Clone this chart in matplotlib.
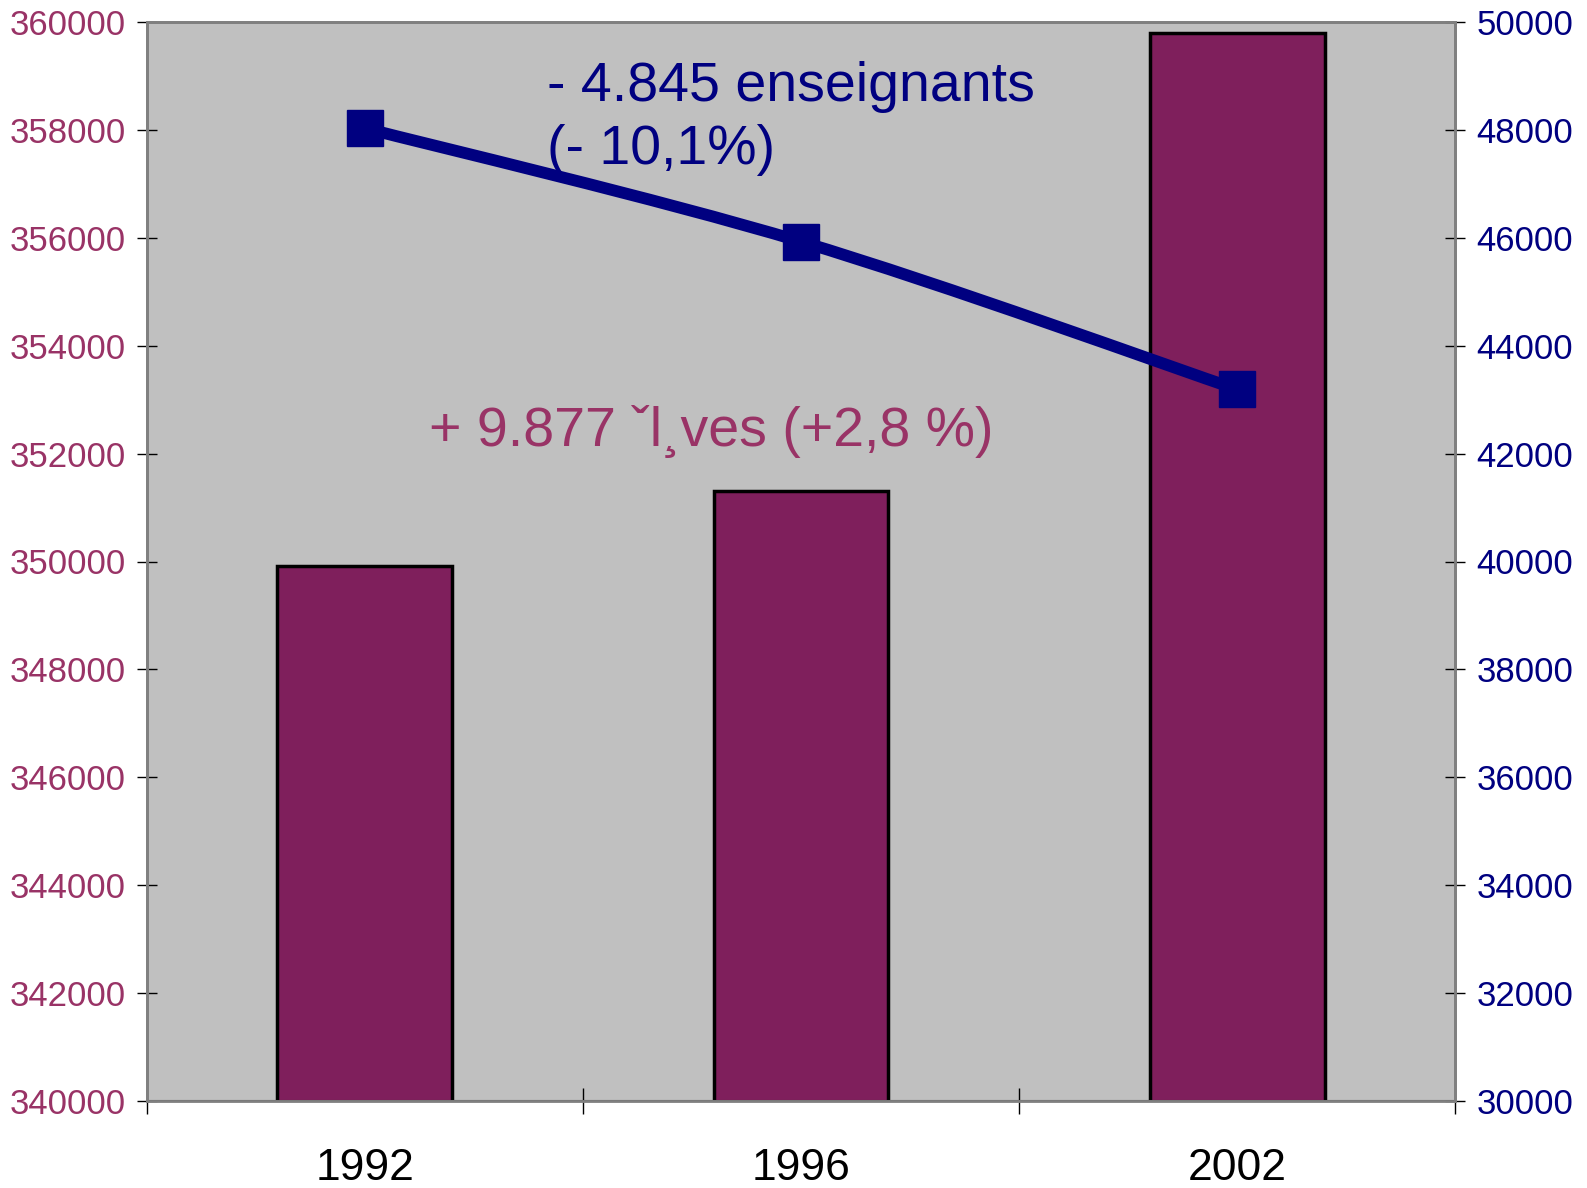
import numpy as np
import matplotlib
matplotlib.use('Agg')
import matplotlib.pyplot as plt
from matplotlib.path import Path
from matplotlib.patches import PathPatch

plt.rcParams['font.family'] = ['Liberation Sans', 'DejaVu Sans']

# Data
years = ['1992', '1996', '2002']
eleves = [349925, 351300, 359800]        # bars, left axis
enseignants = [48034, 45930, 43189]      # line, right axis

barColor = '#7f1f5c'
lineColor = '#000080'
leftColor = '#993366'

fig = plt.figure(figsize=(15.87, 11.88), dpi=100)
ax1 = fig.add_axes([146.5/1587, 1-1101/1188, (1455.5-146.5)/1587, (1101-22)/1188])
ax1.set_facecolor('#c0c0c0')

x = np.arange(len(years))
ax1.bar(x, eleves, width=0.4, color=barColor, edgecolor='black', linewidth=2.5, zorder=2)
ax1.set_xlim(-0.5, 2.5)
ax1.set_ylim(340000, 360000)
ax1.set_yticks(np.arange(340000, 360001, 2000))
ax1.tick_params(axis='y', direction='inout', length=14, width=1, colors='black',
                labelcolor=leftColor, labelsize=25, pad=8)
ax1.set_xticks(x)
ax1.set_xticklabels(years)
ax1.tick_params(axis='x', which='major', length=0, labelsize=32, pad=34)
ax1.set_xticks([-0.5, 0.5, 1.5, 2.5], minor=True)
ax1.tick_params(axis='x', which='minor', direction='inout', length=19, width=1)

ax2 = ax1.twinx()
# smoothed line (Excel style), control points from the data
pts = np.column_stack([x, enseignants]).astype(float)
ext = np.vstack([pts[0], pts, pts[-1]])
verts = [tuple(pts[0])]
codes = [Path.MOVETO]
for i in range(len(pts) - 1):
    p0, p1, p2, p3 = ext[i], ext[i + 1], ext[i + 2], ext[i + 3]
    c1 = p1 + (p2 - p0) / 6.0
    c2 = p2 - (p3 - p1) / 6.0
    verts += [tuple(c1), tuple(c2), tuple(p2)]
    codes += [Path.CURVE4] * 3
ax2.add_patch(PathPatch(Path(verts, codes), facecolor='none', edgecolor=lineColor,
                        linewidth=8.5, zorder=3, capstyle='butt'))
ax2.plot(x, enseignants, linestyle='none', marker='s', markersize=26,
         color=lineColor, zorder=4)
ax2.set_ylim(30000, 50000)
ax2.set_yticks(np.arange(30000, 50001, 2000))
ax2.tick_params(axis='y', direction='inout', length=14, width=1, colors='black',
                labelcolor=lineColor, labelsize=25, pad=8)

for ax in (ax1, ax2):
    for s in ax.spines.values():
        s.set_color('#808080')
        s.set_linewidth(2)
ax1.spines['bottom'].set_color('#404040')
ax1.spines['bottom'].set_linewidth(1.5)

ax1.text(0.306, 0.9268, '- 4.845 enseignants', transform=ax1.transAxes,
         color=lineColor, fontsize=40, ha='left', va='baseline', zorder=5)
ax1.text(0.306, 0.8684, '(- 10,1%)', transform=ax1.transAxes,
         color=lineColor, fontsize=40, ha='left', va='baseline', zorder=5)
ax1.text(0.216, 0.607, '+ 9.877 ˇl¸ves (+2,8 %)', transform=ax1.transAxes,
         color=leftColor, fontsize=40, ha='left', va='baseline', zorder=5)

fig.savefig('out.png', dpi=100)
